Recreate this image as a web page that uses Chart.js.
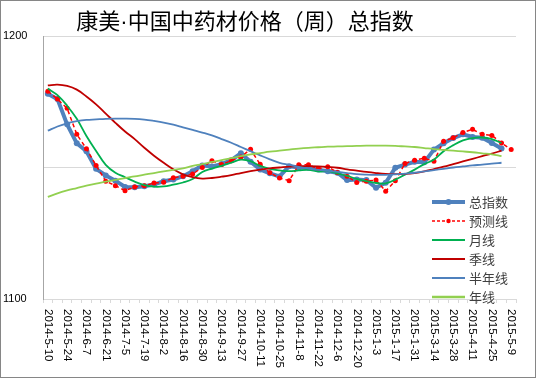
<!DOCTYPE html>
<html>
<head>
<meta charset="utf-8">
<script src="https://cdn.jsdelivr.net/npm/chart.js@4"></script>
<style>
  html, body { margin: 0; padding: 0; background: #fff; }
  canvas { display: block; }
</style>
</head>
<body>
<canvas id="chart" width="536" height="378"></canvas>
<script>
const weeks = [
  "2014-5-10", "2014-5-17", "2014-5-24", "2014-5-31", "2014-6-7", "2014-6-14",
  "2014-6-21", "2014-6-28", "2014-7-5", "2014-7-12", "2014-7-19", "2014-7-26",
  "2014-8-2", "2014-8-9", "2014-8-16", "2014-8-23", "2014-8-30", "2014-9-6",
  "2014-9-13", "2014-9-20", "2014-9-27", "2014-10-4", "2014-10-11", "2014-10-18",
  "2014-10-25", "2014-11-1", "2014-11-8", "2014-11-15", "2014-11-22", "2014-11-29",
  "2014-12-6", "2014-12-13", "2014-12-20", "2014-12-27", "2015-1-3", "2015-1-10",
  "2015-1-17", "2015-1-24", "2015-1-31", "2015-3-7", "2015-3-14", "2015-3-21",
  "2015-3-28", "2015-4-4", "2015-4-11", "2015-4-18", "2015-4-25", "2015-5-2",
  "2015-5-9",
];

const totalIndex = [
  1178, 1176, 1166.4, 1159.2, 1156.2, 1149.5, 1147, 1145, 1142.6, 1142.5,
  1142.9, 1143.5, 1144.8, 1145.4, 1146.7, 1148.6, 1150.8, 1150.4, 1151.3, 1152.8,
  1155.4, 1152.2, 1149.2, 1147.8, 1146.6, 1150.5, 1150, 1149.9, 1149.2, 1148.6,
  1148, 1145.2, 1145.4, 1145.2, 1142.3, 1144.2, 1149.9, 1151.1, 1152.2, 1152,
  1156.8, 1159.2, 1161.2, 1162.6, 1161.6, 1161.3, 1159.3, 1157.2,
];

const forecast = [
  1179, 1176, 1172.5, 1162.6, 1157.1, 1150.8, 1144.8, 1143.1, 1141.2, 1142.6,
  1143.1, 1144.1, 1144.4, 1146.1, 1146.7, 1147.5, 1150, 1152.6, 1151.1, 1152.6,
  1154, 1156.9, 1151.2, 1148, 1146, 1145, 1151, 1151, 1149.5, 1150.3,
  1148.1, 1146.7, 1144.3, 1144.8, 1145.2, 1141, 1145, 1151.5, 1152.8, 1153.5,
  1152.4, 1160, 1161.3, 1163.3, 1164.5, 1162.6, 1162.2, 1159.3, 1156.8,
];

const monthLine = [
  1180, 1177.5, 1173.5, 1168.5, 1162, 1156.3, 1151, 1148, 1146.3, 1144.6,
  1143.3, 1142.7, 1142.8, 1143.5, 1144.3, 1145.6, 1148.3, 1149.6, 1150.6, 1151.8,
  1153, 1152.4, 1150.6, 1149.5, 1148.9, 1148.6, 1148.9, 1149.1, 1148.5, 1148.6,
  1147.8, 1146.8, 1145.7, 1144.8, 1144.1, 1144, 1145.4, 1147.3, 1149.2, 1151.3,
  1153, 1156.2, 1158.5, 1160.3, 1161.2, 1161.4, 1160.8, 1159.3,
];

const seasonLine = [
  1181.2, 1181.5, 1181, 1179.6, 1177, 1174, 1170.5, 1167, 1163.7, 1160.8,
  1157.5, 1154.5, 1151.8, 1149.3, 1147.4, 1146.3, 1145.8, 1146, 1146.5, 1147.1,
  1147.9, 1148.6, 1149.2, 1149.7, 1150, 1150.3, 1150.5, 1150.5, 1150.4, 1150.2,
  1149.9, 1149.3, 1148.8, 1148.3, 1147.9, 1147.6, 1147.5, 1147.6, 1147.9, 1148.5,
  1149.4, 1150.3, 1151.3, 1152.3, 1153.3, 1154.3, 1155.3, 1156.4,
];

const halfYearLine = [
  1164, 1165.6, 1166.8, 1167.6, 1168.1, 1168.3, 1168.5, 1168.6, 1168.6, 1168.5,
  1168.2, 1167.7, 1167.1, 1166.3, 1165.3, 1164.3, 1163.3, 1162.2, 1160.8, 1159.4,
  1157.8, 1156.2, 1154.6, 1153.1, 1151.8, 1151, 1150.2, 1149.6, 1149.1, 1148.7,
  1148.3, 1147.9, 1147.5, 1147.3, 1147.2, 1147.2, 1147.4, 1147.7, 1148, 1148.5,
  1149, 1149.5, 1150, 1150.4, 1150.8, 1151.1, 1151.5, 1151.8,
];

const yearLine = [
  1138.8, 1140.2, 1141.3, 1142.2, 1143.1, 1143.9, 1144.6, 1145.3, 1146, 1146.6,
  1147.3, 1147.9, 1148.5, 1149.1, 1149.7, 1150.6, 1151.3, 1152.1, 1152.8, 1153.6,
  1154.3, 1155, 1155.5, 1156, 1156.4, 1156.8, 1157.2, 1157.5, 1157.7, 1157.9,
  1158, 1158.1, 1158.2, 1158.3, 1158.3, 1158.3, 1158.2, 1158, 1157.8, 1157.4,
  1157, 1156.7, 1156.4, 1156.1, 1155.8, 1155.4, 1155, 1154.3,
];

const yLabelled = [1100, 1200];

const BLUE = "#4F81BD";
const RED = "#FF0000";
const GREEN = "#00B050";
const DARKRED = "#C00000";
const LIGHTGREEN = "#92D050";

const legendItems = [
  { text: "总指数", color: BLUE, width: 4, dash: [], dot: 3 },
  { text: "预测线", color: RED, width: 1.5, dash: [3, 2], dot: 2.2 },
  { text: "月线", color: GREEN, width: 1.8, dash: [], dot: 0 },
  { text: "季线", color: DARKRED, width: 1.8, dash: [], dot: 0 },
  { text: "半年线", color: BLUE, width: 1.8, dash: [], dot: 0 },
  { text: "年线", color: LIGHTGREEN, width: 2.5, dash: [], dot: 0 },
];

const frame = {
  id: "frame",
  beforeDraw(chart) {
    const ctx = chart.ctx;
    ctx.save();
    ctx.fillStyle = "#fff";
    ctx.fillRect(0, 0, chart.width, chart.height);
    ctx.restore();
  },
  afterDraw(chart) {
    const ctx = chart.ctx;
    ctx.save();
    // title
    ctx.fillStyle = "#000";
    ctx.font = '22px "Liberation Sans", "Noto Sans CJK SC"';
    ctx.textAlign = "center";
    ctx.textBaseline = "middle";
    ctx.fillText("康美·中国中药材价格（周）总指数", 245, 23);

    // rotated date labels, every second week
    const x = chart.scales.x;
    ctx.font = '11.5px "Liberation Sans"';
    ctx.fillStyle = "#000";
    ctx.textAlign = "left";
    ctx.textBaseline = "middle";
    weeks.forEach((w, i) => {
      if (i % 2) return;
      ctx.save();
      ctx.translate(x.getPixelForValue(i), chart.chartArea.bottom + 10);
      ctx.rotate(Math.PI / 2);
      ctx.fillText(w, 0, 0);
      ctx.restore();
    });

    // legend
    let ly = 202;
    ctx.font = '13px "Noto Sans CJK SC"';
    legendItems.forEach((it) => {
      ctx.strokeStyle = it.color;
      ctx.lineWidth = it.width;
      ctx.setLineDash(it.dash);
      ctx.beginPath();
      ctx.moveTo(432, ly);
      ctx.lineTo(465, ly);
      ctx.stroke();
      ctx.setLineDash([]);
      if (it.dot) {
        ctx.fillStyle = it.color;
        ctx.beginPath();
        ctx.arc(448.5, ly, it.dot, 0, Math.PI * 2);
        ctx.fill();
      }
      ctx.fillStyle = "#404040";
      ctx.fillText(it.text, 469, ly);
      ly += 19;
    });

    // outer border
    ctx.strokeStyle = "#868686";
    ctx.lineWidth = 1;
    ctx.strokeRect(0.5, 0.5, chart.width - 1, chart.height - 1);
    ctx.restore();
  },
};

const smooth = (label, data, color, width, order) => ({
  label,
  data,
  borderColor: color,
  borderWidth: width,
  pointRadius: 0,
  tension: 0.4,
  order,
});

new Chart(document.getElementById("chart"), {
  type: "line",
  data: {
    labels: weeks,
    datasets: [
      {
        label: "总指数",
        data: totalIndex,
        borderColor: BLUE,
        backgroundColor: BLUE,
        borderWidth: 4,
        pointRadius: 3,
        pointBorderWidth: 0,
        tension: 0,
        order: 6,
      },
      {
        label: "预测线",
        data: forecast,
        borderColor: RED,
        backgroundColor: RED,
        borderWidth: 1.5,
        borderDash: [4, 3],
        pointRadius: 2.5,
        pointBorderWidth: 0,
        tension: 0,
        order: 5,
      },
      smooth("月线", monthLine, GREEN, 1.8, 4),
      smooth("季线", seasonLine, DARKRED, 1.8, 3),
      smooth("半年线", halfYearLine, BLUE, 1.8, 2),
      smooth("年线", yearLine, LIGHTGREEN, 1.8, 1),
    ],
  },
  options: {
    responsive: false,
    animation: false,
    devicePixelRatio: 1,
    layout: { padding: { left: 3, right: 20, top: 36, bottom: 0 } },
    plugins: {
      legend: { display: false },
      title: { display: false },
      tooltip: { enabled: false },
    },
    scales: {
      x: {
        offset: true,
        ticks: { display: false },
        grid: {
          offset: true,
          drawOnChartArea: false,
          drawTicks: true,
          tickLength: 4,
          color: "#d9d9d9",
        },
        border: { color: "#d9d9d9" },
        afterFit(scale) {
          scale.height = 79;
        },
      },
      y: {
        min: 1100,
        max: 1200,
        ticks: {
          stepSize: 50,
          crossAlign: "far",
          color: "#000",
          font: { family: "Liberation Sans", size: 11 },
          callback: (v) => (yLabelled.includes(v) ? String(v) : ""),
        },
        grid: { color: "#d9d9d9", lineWidth: 1, drawTicks: false },
        border: { color: "#a6a6a6" },
        afterFit(scale) {
          scale.width = 40;
        },
      },
    },
  },
  plugins: [frame],
});
</script>
</body>
</html>
